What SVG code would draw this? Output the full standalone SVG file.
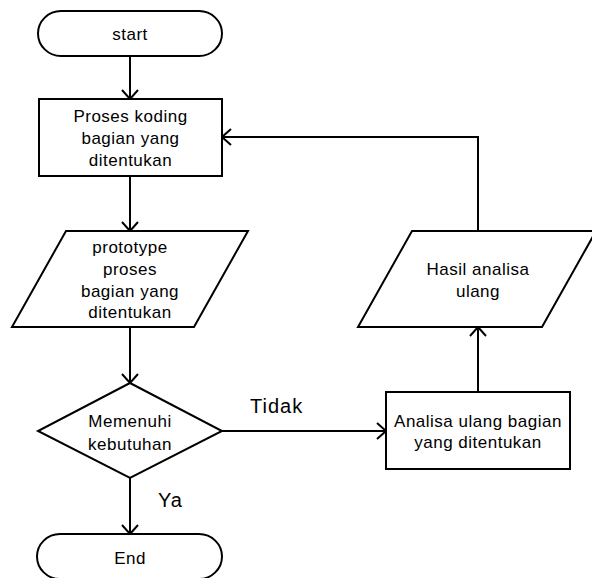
<svg xmlns="http://www.w3.org/2000/svg" width="592" height="578" viewBox="0 0 592 578">
  <style>
    .shape { fill: #ffffff; stroke: #000000; stroke-width: 2; }
    .line { fill: none; stroke: #000000; stroke-width: 2; }
    .label { font-family: "Liberation Sans", Arial, sans-serif; font-size: 17px; letter-spacing: 0.5px; fill: #000000; text-anchor: middle; }
    .edge-label { font-family: "Liberation Sans", Arial, sans-serif; font-size: 20px; letter-spacing: 1px; fill: #000000; }
  </style>
  <defs>
    <marker id="arrow" markerUnits="userSpaceOnUse" markerWidth="20" markerHeight="20" viewBox="-12 -10 14 20" refX="0" refY="0" orient="auto">
      <path d="M -9 -8 L 0 0 L -9 8" fill="none" stroke="#000000" stroke-width="2"/>
    </marker>
  </defs>
  <rect width="592" height="578" fill="#ffffff"/>

  <g id="connectors">
    <line class="line" x1="130" y1="56" x2="130" y2="99" marker-end="url(#arrow)"/>
    <line class="line" x1="130" y1="176" x2="130" y2="231" marker-end="url(#arrow)"/>
    <line class="line" x1="130" y1="327" x2="130" y2="383" marker-end="url(#arrow)"/>
    <line class="line" x1="130" y1="478" x2="130" y2="534" marker-end="url(#arrow)"/>
    <line class="line" x1="222" y1="431" x2="386" y2="431" marker-end="url(#arrow)"/>
    <line class="line" x1="478" y1="392" x2="478" y2="327" marker-end="url(#arrow)"/>
    <polyline class="line" points="478,231 478,137 222,137" marker-end="url(#arrow)"/>
    <text class="edge-label" x="250" y="413">Tidak</text>
    <text class="edge-label" x="158" y="507">Ya</text>
  </g>

  <g id="start">
    <rect class="shape" x="38" y="11" width="184" height="45" rx="23" ry="22.5"/>
    <text class="label" x="130" y="40">start</text>
  </g>

  <g id="proses-koding">
    <rect class="shape" x="39" y="99" width="183" height="77"/>
    <text class="label" x="130.5" y="122">Proses koding</text>
    <text class="label" x="130.5" y="144">bagian yang</text>
    <text class="label" x="130.5" y="166">ditentukan</text>
  </g>

  <g id="prototype">
    <polygon class="shape" points="66,231 248,231 194,327 12,327"/>
    <text class="label" x="130" y="253">prototype</text>
    <text class="label" x="130" y="275">proses</text>
    <text class="label" x="130" y="297">bagian yang</text>
    <text class="label" x="130" y="318">ditentukan</text>
  </g>

  <g id="keputusan">
    <polygon class="shape" points="130,383 222,431 130,478 38,431"/>
    <text class="label" x="130" y="427">Memenuhi</text>
    <text class="label" x="130" y="450">kebutuhan</text>
  </g>

  <g id="end">
    <rect class="shape" x="37" y="534" width="185" height="45" rx="23" ry="22.5"/>
    <text class="label" x="130" y="564">End</text>
  </g>

  <g id="analisa-ulang">
    <rect class="shape" x="386" y="392" width="184" height="77"/>
    <text class="label" x="478" y="427">Analisa ulang bagian</text>
    <text class="label" x="478" y="448">yang ditentukan</text>
  </g>

  <g id="hasil-analisa">
    <polygon class="shape" points="412,231 596,231 542,327 358,327"/>
    <text class="label" x="478" y="275">Hasil analisa</text>
    <text class="label" x="478" y="297">ulang</text>
  </g>
</svg>
